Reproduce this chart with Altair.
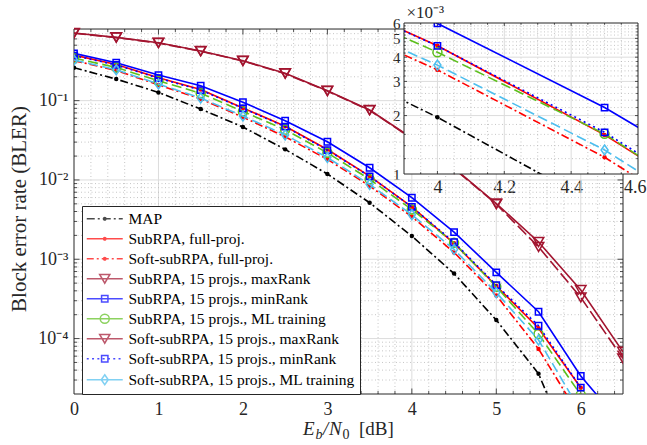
import altair as alt
import pandas as pd

# ---------------- data: block error rate versus Eb/N0 ----------------
EBN0 = [0.0, 0.5, 1.0, 1.5, 2.0, 2.5, 3.0, 3.5, 4.0, 4.5, 5.0, 5.5, 6.0, 6.5]

BLER_MAP = [0.260, 0.187, 0.127, 0.0784, 0.0465, 0.0243, 0.0119, 5.16e-3,
            1.96e-3, 6.6e-4, 1.71e-4, 3.6e-5, 2.0e-6]
BLER_SUB_FULL = [0.375, 0.285, 0.195, 0.138, 0.081, 0.0475, 0.0242, 0.0112,
                 4.58e-3, 1.59e-3, 4.6e-4, 1.35e-4, 2.4e-5]
BLER_SOFT_FULL = [0.320, 0.240, 0.158, 0.105, 0.062, 0.035, 0.0182, 8.4e-3,
                  3.44e-3, 1.22e-3, 3.5e-4, 7.4e-5, 1.0e-5]
BLER_SUB_MAXR = [0.713, 0.628, 0.537, 0.423, 0.319, 0.221, 0.133, 0.0762,
                 0.0338, 0.0141, 5.05e-3, 1.65e-3, 4.09e-4, 6.8e-5]
BLER_SUB_MINR = [0.395, 0.301, 0.210, 0.154, 0.0955, 0.0558, 0.0303, 0.01426,
                 5.97e-3, 2.2e-3, 6.84e-4, 2.18e-4, 3.37e-5, 8.0e-6]
BLER_SUB_ML = [0.345, 0.262, 0.178, 0.124, 0.073, 0.043, 0.022, 0.0102,
               4.24e-3, 1.61e-3, 4.5e-4, 1.14e-4, 1.95e-5]
BLER_SOFT_MAXR = [0.708, 0.624, 0.533, 0.420, 0.316, 0.219, 0.132, 0.0755,
                  0.0334, 0.0139, 4.95e-3, 1.43e-3, 3.3e-4, 5.6e-5]
BLER_SOFT_MINR = [0.370, 0.282, 0.192, 0.136, 0.080, 0.047, 0.0238, 0.0111,
                  4.57e-3, 1.64e-3, 4.73e-4, 1.45e-4, 2.41e-5]
BLER_SOFT_ML = [0.325, 0.245, 0.162, 0.108, 0.064, 0.037, 0.0192, 8.8e-3,
                3.64e-3, 1.33e-3, 3.8e-4, 9.6e-5, 1.2e-5]

LABELS = [
    "MAP",
    "SubRPA, full-proj.",
    "Soft-subRPA, full-proj.",
    "SubRPA, 15 projs., maxRank",
    "SubRPA, 15 projs., minRank",
    "SubRPA, 15 projs., ML training",
    "Soft-subRPA, 15 projs., maxRank",
    "Soft-subRPA, 15 projs., minRank",
    "Soft-subRPA, 15 projs., ML training",
]
VALUES = [BLER_MAP, BLER_SUB_FULL, BLER_SOFT_FULL, BLER_SUB_MAXR, BLER_SUB_MINR,
          BLER_SUB_ML, BLER_SOFT_MAXR, BLER_SOFT_MINR, BLER_SOFT_ML]

# axis limits
X_LIM = [0.0, 6.5]
Y_LIM = [2e-5, 0.8]
Y_VIEW_TOP = 0.953          # a few pixels of headroom above the box
INSET_X = [3.9, 4.6]
INSET_Y = [1e-3, 6e-3]

# ---------------- styling ----------------
FONT = "Liberation Serif"
INK = "#262626"
GRID_MAJOR = "#dcdcdc"
GRID_MINOR = "#b8b8b8"
TICK_FS = 18

DARKRED = "#a2142f"
GREEN = "#5cbf1c"
CYAN = "#4dbeee"
DIAMOND = "M0,-1L0.7,0L0,1L-0.7,0Z"

# colour, dash in plot, dash in legend, marker shape, marker size, filled marker
STYLE = [
    ("#000000", [8, 3, 2, 3], [8, 3, 2, 3], "circle", 20, True),
    ("#ff0000", None, None, "circle", 20, True),
    ("#ff0000", [8, 3, 2, 3], [7, 3, 2, 3], "circle", 20, True),
    (DARKRED, None, None, "triangle-down", 110, False),
    ("#0000ff", None, None, "square", 40, False),
    (GREEN, [10, 4.5], None, "circle", 81, False),
    (DARKRED, [12, 4], None, "triangle-down", 110, False),
    ("#0000ff", [2, 3.3], [2, 3.3], "square", 40, False),
    (CYAN, [10, 4.5], None, DIAMOND, 100, False),
]

# plot geometry (pixels inside the shared view)
MAIN_W, MAIN_H = 549, 371
IN_X0, IN_W = 330, 234      # inset box: left edge and width
IN_Y0, IN_H = 0, 151        # inset box: top edge and height
INSET_CLIP = {"expr": f"pathShape('M{IN_X0},{IN_Y0}H{IN_X0 + IN_W}V{IN_Y0 + IN_H}H{IN_X0}Z')"}

# ---------------- legend glyphs: line sample + marker as one path ----------------
UNIT = 6.0  # px per path unit for a symbol size of 144


def line_path(dash, half=18.0):
    if not dash:
        return f"M{-half / UNIT:.3f},0H{half / UNIT:.3f}"
    parts, pos, i = [], -half, 0
    while pos < half:
        seg = dash[i % len(dash)]
        end = min(pos + seg, half)
        if i % 2 == 0:
            parts.append(f"M{pos / UNIT:.3f},0H{end / UNIT:.3f}")
        pos = end
        i += 1
    return "".join(parts)


MARKER_PATHS = {
    "dot": "M-0.2,0A0.2,0.2 0 1,0 0.2,0A0.2,0.2 0 1,0 -0.2,0",
    "triangle-down": "M-0.85,-0.72L0.85,-0.72L0,0.74Z",
    "square": "M-0.53,-0.53H0.53V0.53H-0.53Z",
    "circle": "M-0.75,0A0.75,0.75 0 1,0 0.75,0A0.75,0.75 0 1,0 -0.75,0",
    DIAMOND: "M0,-0.84L0.58,0L0,0.84L-0.58,0Z",
}

LEGEND_PATHS = []
for color, dash, ldash, shape, size, filled in STYLE:
    key = "dot" if filled else shape
    LEGEND_PATHS.append(line_path(ldash) + MARKER_PATHS[key])


def series_frame(k):
    vals = VALUES[k]
    return pd.DataFrame({"ebn0": EBN0[: len(vals)], "bler": vals})


# ---------------- scales / axes ----------------
SX_MAIN = alt.Scale(domain=X_LIM, nice=False, zero=False)
SY_MAIN = alt.Scale(type="log", domain=[Y_LIM[0], Y_VIEW_TOP], nice=False)
SX_IN = alt.Scale(domain=INSET_X, nice=False, zero=False, range=[IN_X0, IN_X0 + IN_W])
SY_IN = alt.Scale(type="log", domain=INSET_Y, nice=False, range=[IN_Y0 + IN_H, IN_Y0])

AX_MAIN_X = alt.Axis(values=[0, 1, 2, 3, 4, 5, 6], title=None, grid=False,
                     orient="bottom", ticks=False, domain=False, labelFont=FONT,
                     labelFontSize=TICK_FS, labelColor=INK, labelPadding=6,
                     labelFlush=False)
SUP = "replace(replace(replace(replace(replace('' + round(log(datum.value)/LN10), '-', '⁻'), '1', '¹'), '2', '²'), '3', '³'), '4', '⁴')"
AX_MAIN_Y = alt.Axis(values=[1e-1, 1e-2, 1e-3, 1e-4], labelExpr="'10' + " + SUP,
                     orient="left", title="Block error rate (BLER)",
                     titleFont=FONT, titleFontSize=21, titleFontWeight="normal",
                     titleColor=INK, titlePadding=8, grid=False, ticks=False,
                     domain=False, labelFont=FONT, labelFontSize=TICK_FS,
                     labelColor=INK, labelPadding=6)
AX_IN_X = alt.Axis(values=[4.0, 4.2, 4.4, 4.6], labelExpr="'' + datum.value",
                   title=None, grid=False,
                   orient="bottom", offset=IN_Y0 + IN_H - MAIN_H,
                   ticks=False, domain=False, labelFont=FONT,
                   labelFontSize=TICK_FS, labelColor=INK, labelPadding=4,
                   labelFlush=1, labelFlushOffset=8, labelOverlap=False)
AX_IN_Y = alt.Axis(values=[1e-3, 2e-3, 3e-3, 4e-3, 5e-3, 6e-3],
                   labelExpr="'' + round(datum.value * 1000)",
                   orient="left", offset=-IN_X0,
                   title="×10⁻³", titleAngle=0, titleAlign="left",
                   titleBaseline="alphabetic", titleX=2, titleY=IN_Y0 - 6,
                   titleFont=FONT, titleFontSize=17, titleFontWeight="normal",
                   titleColor=INK, grid=False, ticks=False, domain=False,
                   labelFont=FONT, labelFontSize=15, labelColor=INK,
                   labelPadding=4, labelFlush=False, labelOverlap=False)


def xf(field, sc, ax):
    return alt.X(field, type="quantitative", scale=sc, axis=ax)


def yf(field, sc, ax):
    return alt.Y(field, type="quantitative", scale=sc, axis=ax)


def xd(v, sc, ax):
    return alt.XDatum(v, type="quantitative", scale=sc, axis=ax)


def yd(v, sc, ax):
    return alt.YDatum(v, type="quantitative", scale=sc, axis=ax)


def grid_and_ticks(sx, sy, axx, axy, xlim, ylim, x_major, x_minor, y_major,
                   y_minor, left, right, top, bottom, tick_major, tick_minor):
    layers = []
    for vals, col, dash, wid in [(x_minor, GRID_MINOR, [1, 2.5], 0.8),
                                 (x_major, GRID_MAJOR, None, 1.0)]:
        kw = dict(color=col, strokeWidth=wid)
        if dash:
            kw["strokeDash"] = dash
        layers.append(
            alt.Chart(pd.DataFrame({"v": vals})).mark_rule(**kw).encode(
                x=xf("v", sx, axx), y=yd(ylim[0], sy, axy),
                y2=alt.Y2Datum(ylim[1])))
    for vals, col, dash, wid in [(y_minor, GRID_MINOR, [1, 2.5], 0.8),
                                 (y_major, GRID_MAJOR, None, 1.0)]:
        kw = dict(color=col, strokeWidth=wid)
        if dash:
            kw["strokeDash"] = dash
        layers.append(
            alt.Chart(pd.DataFrame({"v": vals})).mark_rule(**kw).encode(
                y=yf("v", sy, axy), x=xd(xlim[0], sx, axx),
                x2=alt.X2Datum(xlim[1])))
    # inward tick marks on all four sides of the box
    for vals, ln in [(x_major, tick_major), (x_minor, tick_minor)]:
        df = pd.DataFrame({"v": vals})
        for y0, y1 in [(bottom, bottom - ln), (top, top + ln)]:
            layers.append(alt.Chart(df).mark_rule(color=INK, strokeWidth=0.8).encode(
                x=xf("v", sx, axx), y=alt.value(y0), y2=alt.value(y1)))
    for vals, ln in [(y_major, tick_major), (y_minor, tick_minor)]:
        df = pd.DataFrame({"v": vals})
        for x0, x1 in [(left, left + ln), (right, right - ln)]:
            layers.append(alt.Chart(df).mark_rule(color=INK, strokeWidth=0.8).encode(
                y=yf("v", sy, axy), x=alt.value(x0), x2=alt.value(x1)))
    return layers


def frame(sx, sy, axx, axy, xlim, ylim, fill=None, stroke=None):
    one = alt.Data(values=[{"k": 0}])
    kw = {"fill": fill if fill else "transparent",
          "stroke": stroke if stroke else "transparent",
          "strokeWidth": 1.0}
    return alt.Chart(one).mark_rect(**kw).encode(
        x=xd(xlim[0], sx, axx), x2=alt.X2Datum(xlim[1]),
        y=yd(ylim[1], sy, axy), y2=alt.Y2Datum(ylim[0]))


def series_layers(sx, sy, axx, axy, clip):
    layers = []
    for k in range(len(LABELS)):
        color, dash, ldash, shape, size, filled = STYLE[k]
        df = series_frame(k)
        lkw = dict(color=color, strokeWidth=1.6, clip=clip)
        if dash:
            lkw["strokeDash"] = dash
        layers.append(alt.Chart(df).mark_line(**lkw).encode(
            x=xf("ebn0", sx, axx), y=yf("bler", sy, axy)))
        pkw = dict(shape=shape, size=size, filled=filled, color=color,
                   strokeWidth=1.5, clip=clip, opacity=1)
        layers.append(alt.Chart(df).mark_point(**pkw).encode(
            x=xf("ebn0", sx, axx), y=yf("bler", sy, axy)))
    return layers


# ---------------- tick positions ----------------
def log_minor(lo, hi):
    out = []
    for e in range(-6, 1):
        for m in range(2, 10):
            v = m * 10.0 ** e
            if lo * 1.0001 < v < hi * 0.9999:
                out.append(v)
    return out


MAIN_X_MAJOR = [1, 2, 3, 4, 5, 6]
MAIN_X_MINOR = [round(0.2 * i, 1) for i in range(1, 33) if i % 5 != 0]
MAIN_Y_MAJOR = [1e-4, 1e-3, 1e-2, 1e-1]
MAIN_Y_MINOR = log_minor(Y_LIM[0], Y_LIM[1])

IN_X_MAJOR = [4.0, 4.2, 4.4]
IN_X_MINOR = [round(3.9 + 0.05 * i, 2) for i in range(1, 14) if i not in (2, 6, 10)]
IN_Y_MAJOR = [2e-3, 3e-3, 4e-3, 5e-3]
IN_Y_MINOR = [round(v * 1e-4, 6) for v in range(11, 60) if v % 10 != 0 and v % 2 == 0]

# ---------------- main panel ----------------
top_px = MAIN_H - 79.31 * 4.6021  # pixel row of the 0.8 limit

main_layers = grid_and_ticks(SX_MAIN, SY_MAIN, AX_MAIN_X, AX_MAIN_Y, X_LIM, Y_LIM,
                             MAIN_X_MAJOR, MAIN_X_MINOR, MAIN_Y_MAJOR, MAIN_Y_MINOR,
                             0, MAIN_W, top_px, MAIN_H, 5.5, 3.0)
main_layers.append(frame(SX_MAIN, SY_MAIN, AX_MAIN_X, AX_MAIN_Y, X_LIM, Y_LIM,
                         stroke=INK))
main_layers += series_layers(SX_MAIN, SY_MAIN, AX_MAIN_X, AX_MAIN_Y, True)

legend_src = pd.DataFrame({"series": LABELS})
LEG = alt.Legend(title=None, orient="none", legendX=8, legendY=183,
                 symbolSize=144, symbolStrokeWidth=1.5, symbolOffset=10,
                 labelOffset=16, labelFont=FONT, labelFontSize=15.5,
                 labelColor="#000000", labelLimit=0, fillColor="white",
                 strokeColor=INK, padding=5, rowPadding=3)
main_layers.append(
    alt.Chart(legend_src).mark_point(filled=False, strokeWidth=1.5)
    .transform_filter("false")
    .encode(
        color=alt.Color("series:N", scale=alt.Scale(domain=LABELS,
                        range=[s[0] for s in STYLE]), legend=LEG),
        shape=alt.Shape("series:N", scale=alt.Scale(domain=LABELS,
                        range=LEGEND_PATHS), legend=LEG),
    ))

# x-axis title  E_b / N_0 [dB]
one = alt.Data(values=[{"k": 0}])
TY = 412
for txt, x, dy, size, style in [("E", 229, 0, 19, "italic"),
                                ("b", 241.5, 4, 14, "italic"),
                                ("/", 249, 0, 19, "italic"),
                                ("N", 255, 0, 19, "italic"),
                                ("0", 268.5, 4, 14, "normal"),
                                ("[dB]", 285, 0, 19, "normal")]:
    main_layers.append(
        alt.Chart(one).mark_text(text=txt, font=FONT, fontSize=size,
                                 fontStyle=style, align="left",
                                 baseline="alphabetic", color=INK)
        .encode(x=alt.value(x), y=alt.value(TY + dy)))

main = alt.layer(*main_layers)

# ---------------- inset (zoom on 3.9-4.6 dB) ----------------
inset_layers = [frame(SX_IN, SY_IN, AX_IN_X, AX_IN_Y, INSET_X, INSET_Y, fill="white")]
inset_layers += grid_and_ticks(SX_IN, SY_IN, AX_IN_X, AX_IN_Y, INSET_X, INSET_Y,
                               IN_X_MAJOR, IN_X_MINOR, IN_Y_MAJOR, IN_Y_MINOR,
                               IN_X0, IN_X0 + IN_W, IN_Y0, IN_Y0 + IN_H, 3.0, 1.8)
inset_layers += series_layers(SX_IN, SY_IN, AX_IN_X, AX_IN_Y, INSET_CLIP)
inset_layers.append(frame(SX_IN, SY_IN, AX_IN_X, AX_IN_Y, INSET_X, INSET_Y,
                          stroke=INK))
inset = alt.layer(*inset_layers)

chart = (
    alt.layer(main, inset)
    .resolve_scale(x="independent", y="independent")
    .properties(width=MAIN_W, height=MAIN_H,
                autosize=alt.AutoSizeParams(type="none"),
                padding={"left": 74, "top": 23, "right": 24, "bottom": 51},
                background="white")
    .configure_view(strokeWidth=0)
)

chart.save("out.html", embed_options={"renderer": "svg", "actions": False})
